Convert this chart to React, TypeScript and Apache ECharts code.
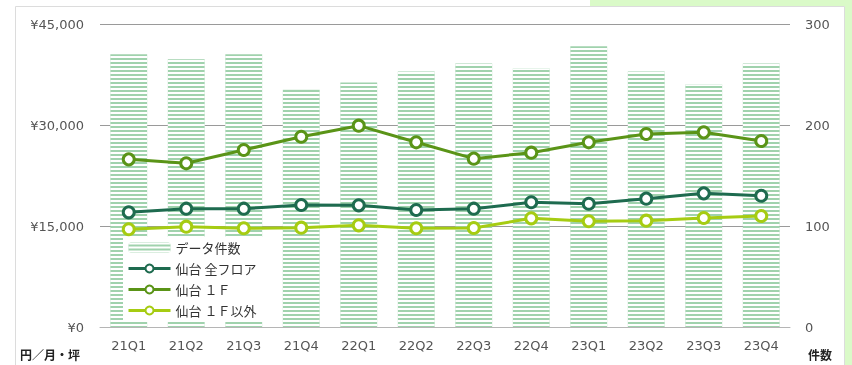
import React, { useEffect, useRef } from "react";
import * as echarts from "echarts";

const categories = ["21Q1", "21Q2", "21Q3", "21Q4", "22Q1", "22Q2", "22Q3", "22Q4", "23Q1", "23Q2", "23Q3", "23Q4"];
const dataCount = [270, 265, 270, 235, 242, 253, 261, 256, 278, 253, 240, 261];
const sendaiAll = [17030, 17570, 17570, 18120, 18070, 17380, 17570, 18520, 18310, 19060, 19850, 19500];
const sendai1F = [24900, 24310, 26290, 28260, 29900, 27430, 25000, 25890, 27430, 28660, 28910, 27620];
const sendaiEx1F = [14510, 14900, 14660, 14750, 15100, 14660, 14700, 16140, 15700, 15790, 16190, 16490];
const seriesNames = ["データ件数", "仙台 全フロア", "仙台 １Ｆ", "仙台 １Ｆ以外"];
const leftTicks = [0, 15000, 30000, 45000];
const rightTicks = [0, 100, 200, 300];

const FONT = "'Noto Sans CJK JP', 'Noto Sans', sans-serif";
const NUMFONT = "'DejaVu Sans', 'Noto Sans', sans-serif";

export default function App() {
  const ref = useRef<HTMLDivElement>(null);
  useEffect(() => {
    const chart = echarts.init(ref.current!, null, { renderer: "svg" });
    const lineSeries = (name: string, data: number[], color: string) => ({
      name,
      type: "line",
      yAxisIndex: 0,
      data,
      symbol: "circle",
      symbolSize: 11,
      lineStyle: { color, width: 3 },
      itemStyle: { color: "#ffffff", borderColor: color, borderWidth: 3 },
      z: 3,
    });
    chart.setOption({
      animation: false,
      textStyle: { fontFamily: FONT },
      graphic: [
        { type: "rect", shape: { x: 590, y: 0, width: 262, height: 365 }, style: { fill: "#dafac8" }, z: -10 },
        { type: "rect", shape: { x: 15.5, y: 6.5, width: 829, height: 380 }, style: { fill: "#ffffff", stroke: "#dcdcdc", lineWidth: 1 }, z: -9 },
        { type: "text", x: 20, y: 348, style: { text: "円／月・坪", font: "bold 12px " + FONT, fill: "#222" }, z: 5 },
        { type: "text", x: 808, y: 348, style: { text: "件数", font: "bold 12px " + FONT, fill: "#222" }, z: 5 },
      ],
      grid: { left: 100, right: 62, top: 24, bottom: 38 },
      legend: {
        data: seriesNames,
        orient: "vertical",
        left: 123,
        top: 237,
        backgroundColor: "#ffffff",
        padding: [4, 8, 5, 4],
        itemGap: 8,
        itemWidth: 42,
        itemHeight: 10,
        lineStyle: { width: 3 },
        textStyle: { fontSize: 13, color: "#333", fontFamily: FONT },
      },
      xAxis: {
        type: "category",
        data: categories,
        axisLine: { lineStyle: { color: "#b5b5b5" } },
        axisTick: { show: false },
        axisLabel: { color: "#555", fontSize: 13, margin: 12, fontFamily: NUMFONT },
      },
      yAxis: [
        {
          type: "value",
          min: leftTicks[0],
          max: leftTicks[leftTicks.length - 1],
          interval: 15000,
          axisLabel: {
            color: "#555",
            fontSize: 13,
            margin: 16,
            fontFamily: NUMFONT,
            formatter: (v: number) => "¥" + v.toLocaleString("en-US"),
          },
          splitLine: { lineStyle: { color: "#9a9a9a" } },
          axisLine: { show: false },
          axisTick: { show: false },
        },
        {
          type: "value",
          min: rightTicks[0],
          max: rightTicks[rightTicks.length - 1],
          interval: 100,
          position: "right",
          axisLabel: { color: "#555", fontSize: 13, margin: 15, fontFamily: NUMFONT },
          splitLine: { show: false },
          axisLine: { show: false },
          axisTick: { show: false },
        },
      ],
      series: [
        {
          name: seriesNames[0],
          type: "bar",
          yAxisIndex: 1,
          data: dataCount,
          barWidth: "64%",
          itemStyle: {
            color: "#a0d2ad",
            decal: {
              symbol: "rect",
              symbolSize: 1,
              color: "#ffffff",
              dashArrayX: [1, 0],
              dashArrayY: [1.1, 1.9],
              rotation: 0,
            },
          },
          z: 1,
        },
        lineSeries(seriesNames[1], sendaiAll, "#1e6b4f"),
        lineSeries(seriesNames[2], sendai1F, "#5a9417"),
        lineSeries(seriesNames[3], sendaiEx1F, "#a6cc12"),
      ],
    });
    return () => chart.dispose();
  }, []);
  return <div ref={ref} style={{ position: "fixed", left: 0, top: 0, width: 852, height: 365 }} />;
}
